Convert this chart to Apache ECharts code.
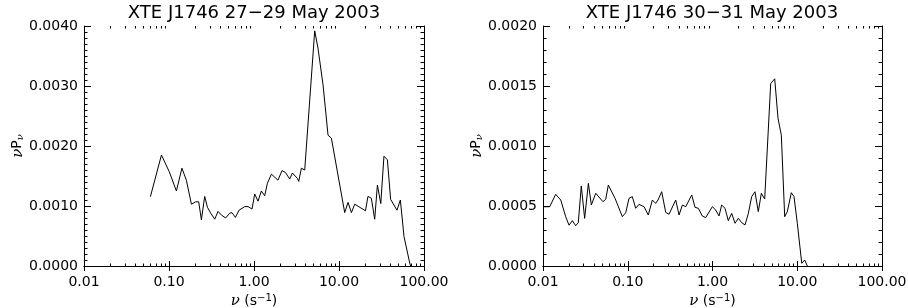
<!DOCTYPE html>
<html>
<head>
<meta charset="utf-8">
<script src="https://cdn.jsdelivr.net/npm/echarts@6/dist/echarts.min.js"></script>
<style>
  html, body { margin: 0; padding: 0; background: #fff; }
  #chart { width: 908px; height: 308px; }
</style>
</head>
<body>
<div id="chart"></div>
<script>
// 27-29 May 2003
const freqA = [0.0604, 0.0815, 0.1008, 0.1222, 0.142, 0.160, 0.1835, 0.206, 0.2235, 0.2405,
  0.263, 0.283, 0.3097, 0.345, 0.377, 0.413, 0.464, 0.518, 0.551, 0.604,
  0.667, 0.778, 0.85, 0.947, 1.02, 1.115, 1.22, 1.336, 1.438, 1.603,
  1.915, 2.135, 2.34, 2.63, 2.83, 3.24, 3.36, 3.61, 3.95, 5.18,
  5.66, 6.49, 7.43, 8.14, 11.67, 12.77, 14.0, 15.3, 20.5, 21.9,
  24.0, 26.3, 28.3, 31.0, 33.8, 37.1, 40.5, 48.1, 52.7, 58.2, 67.9, 69.5]
const nuPnuA = [0.001155, 0.00185, 0.00157, 0.00125, 0.00163, 0.00143, 0.00103, 0.00107, 0.00107, 0.00077,
  0.00116, 0.00098, 0.00088, 0.00078, 0.00091, 0.00085, 0.00080, 0.00088, 0.00089, 0.00081,
  0.00093, 0.00099, 0.00099, 0.00095, 0.00120, 0.00108, 0.00125, 0.00117, 0.00138, 0.00153,
  0.00143, 0.00159, 0.00156, 0.00145, 0.00155, 0.00146, 0.00141, 0.00163, 0.00160, 0.00392,
  0.00363, 0.00302, 0.00218, 0.00213, 0.00089, 0.00106, 0.00089, 0.00103, 0.00092, 0.00116,
  0.00113, 0.00078, 0.00135, 0.00104, 0.00183, 0.00177, 0.00111, 0.00093, 0.00110, 0.00049, 0.00005, 0.0]

// 30-31 May 2003
const freqB = [0.01028, 0.012, 0.0141, 0.0162, 0.01853, 0.0203, 0.0222, 0.0243, 0.0261, 0.0283,
  0.0310, 0.0343, 0.0372, 0.0419, 0.051, 0.055, 0.059, 0.0708, 0.0863, 0.0946,
  0.1035, 0.1132, 0.124, 0.1358, 0.1556, 0.1748, 0.195, 0.2136, 0.2274, 0.2515,
  0.2805, 0.307, 0.368, 0.403, 0.441, 0.483, 0.569, 0.622, 0.68, 0.758,
  0.831, 0.995, 1.09, 1.194, 1.283, 1.405, 1.537, 1.684, 1.843, 2.017,
  2.21, 2.42, 2.65, 2.90, 3.17, 3.47, 3.77, 4.13, 4.86, 5.42,
  5.93, 6.49, 7.11, 7.64, 8.51, 9.16, 10.02, 11.3, 12.25, 13.15]
const nuPnuB = [0.000494, 0.000494, 0.000597, 0.00055, 0.00041, 0.00034, 0.000378, 0.000336, 0.000361, 0.000667,
  0.000397, 0.000689, 0.000508, 0.000606, 0.000536, 0.000556, 0.000675, 0.000564, 0.000411, 0.000444,
  0.000564, 0.000578, 0.000481, 0.000514, 0.000494, 0.000425, 0.00055, 0.000522, 0.00055, 0.000619,
  0.000447, 0.000431, 0.00055, 0.000425, 0.000508, 0.000494, 0.000592, 0.000489, 0.000481, 0.000417,
  0.000403, 0.000494, 0.000467, 0.000417, 0.000508, 0.000481, 0.000378, 0.000439, 0.000356, 0.000397,
  0.000361, 0.000342, 0.000439, 0.000578, 0.000619, 0.000453, 0.000606, 0.000558, 0.00152, 0.00156,
  0.00123, 0.00109, 0.000411, 0.000453, 0.000611, 0.000578, 0.000356, 0.0000225, 0.00005, 0.0]

const titles = ['XTE J1746 27\u221229 May 2003', 'XTE J1746 30\u221231 May 2003']
const xTicks = [0.01, 0.1, 1, 10, 100]

const FONT = 'DejaVu Sans'
const grids = [
  { left: 84, right: 484, top: 26, bottom: 42, outerBoundsMode: 'none' },
  { left: 543, right: 26, top: 26, bottom: 42, outerBoundsMode: 'none' },
]

const xAxisFor = (gi, pos) => ({
  type: 'log',
  logBase: 10,
  gridIndex: gi,
  position: pos,
  min: xTicks[0],
  max: xTicks[xTicks.length - 1],
  axisLine: { show: true, lineStyle: { color: '#000', width: 1 } },
  axisTick: { show: true, inside: true, length: 5, lineStyle: { color: '#000' } },
  minorTick: { show: false },
  splitLine: { show: false },
  axisLabel: {
    show: pos === 'bottom',
    margin: 9,
    color: '#000',
    fontFamily: FONT,
    fontSize: 14,
    formatter: (v) => Number(v).toFixed(2),
  },
  name: pos === 'bottom' ? '{a|\u03bd} (s{b|\u22121})' : '',
  nameLocation: 'middle',
  nameGap: 26,
  nameTextStyle: {
    color: '#000',
    fontFamily: FONT,
    fontSize: 14,
    rich: {
      a: { fontFamily: 'DejaVu Serif', fontStyle: 'italic', fontSize: 15, color: '#000' },
      b: { fontFamily: FONT, fontSize: 10, verticalAlign: 'top', color: '#000' },
    },
  },
})

const yAxisFor = (gi, pos, max, interval, split) => ({
  type: 'value',
  gridIndex: gi,
  position: pos,
  min: 0,
  max: max,
  interval: interval,
  axisLine: { show: true, lineStyle: { color: '#000', width: 1 } },
  axisTick: { show: true, inside: true, length: 7, lineStyle: { color: '#000' } },
  minorTick: { show: true, splitNumber: split, length: 3.5, lineStyle: { color: '#000' } },
  splitLine: { show: false },
  axisLabel: {
    show: pos === 'left',
    margin: 6,
    color: '#000',
    fontFamily: FONT,
    fontSize: 14,
    formatter: (v) => Number(v).toFixed(4),
  },
  name: pos === 'left' ? '{a|\u03bd}{p|P}{c|\u03bd}' : '',
  nameLocation: 'middle',
  nameGap: 58,
  nameTextStyle: {
    color: '#000',
    fontFamily: FONT,
    fontSize: 14,
    rich: {
      a: { fontFamily: 'DejaVu Serif', fontStyle: 'italic', fontSize: 15, color: '#000' },
      p: { fontFamily: FONT, fontSize: 14, color: '#000' },
      c: { fontFamily: 'DejaVu Serif', fontStyle: 'italic', fontSize: 10, verticalAlign: 'bottom', color: '#000' },
    },
  },
})

let option = {
  animation: false,
  backgroundColor: '#fff',
  title: titles.map((t, i) => ({
    text: t,
    left: i === 0 ? 254 : 712,
    top: 4,
    padding: 0,
    textAlign: 'center',
    textStyle: { color: '#000', fontFamily: FONT, fontSize: 18, fontWeight: 'normal' },
  })),
  grid: grids,
  xAxis: [
    xAxisFor(0, 'bottom'),
    xAxisFor(0, 'top'),
    xAxisFor(1, 'bottom'),
    xAxisFor(1, 'top'),
  ],
  yAxis: [
    yAxisFor(0, 'left', 0.004, 0.001, 10),
    yAxisFor(0, 'right', 0.004, 0.001, 10),
    yAxisFor(1, 'left', 0.002, 0.0005, 5),
    yAxisFor(1, 'right', 0.002, 0.0005, 5),
  ],
  series: [
    {
      name: '27-29 May',
      type: 'line',
      xAxisIndex: 0,
      yAxisIndex: 0,
      data: freqA.map((f, i) => [f, nuPnuA[i]]),
      showSymbol: false,
      clip: true,
      lineStyle: { color: '#000', width: 1 },
    },
    {
      name: '30-31 May',
      type: 'line',
      xAxisIndex: 2,
      yAxisIndex: 2,
      data: freqB.map((f, i) => [f, nuPnuB[i]]),
      showSymbol: false,
      clip: true,
      lineStyle: { color: '#000', width: 1 },
    },
  ],
}

let myChart = echarts.init(document.getElementById('chart'), null, { renderer: 'canvas' })
myChart.setOption(option)

// log minor ticks (2..9 in each decade), on bottom and top of each box
const minorTicks = () => {
  const els = []
  ;[[0, 0], [2, 2]].forEach(([xi, yi]) => {
    const yb = myChart.convertToPixel({ yAxisIndex: yi }, 0)
    const yt = myChart.convertToPixel({ yAxisIndex: yi }, yi === 0 ? 0.004 : 0.002)
    for (let d = -2; d < 2; d++) {
      for (let k = 2; k <= 9; k++) {
        const x = Math.round(myChart.convertToPixel({ xAxisIndex: xi }, k * Math.pow(10, d))) + 0.5
        els.push({ type: 'line', silent: true, shape: { x1: x, y1: yb, x2: x, y2: yb - 2.5 }, style: { stroke: '#000', lineWidth: 1 } })
        els.push({ type: 'line', silent: true, shape: { x1: x, y1: yt, x2: x, y2: yt + 2.5 }, style: { stroke: '#000', lineWidth: 1 } })
      }
    }
  })
  myChart.setOption({ graphic: els })
}
minorTicks()
</script>
</body>
</html>
